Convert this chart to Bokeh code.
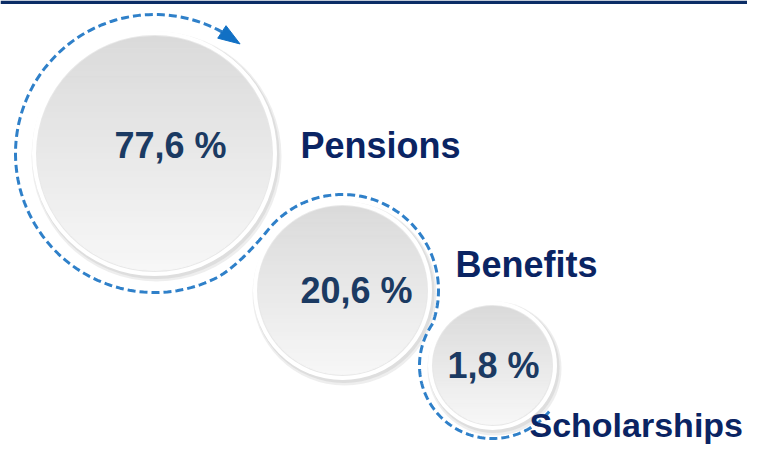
import numpy as np
from bokeh.plotting import figure
from bokeh.models import Range1d
from bokeh.core.properties import value
from bokeh.embed import file_html
from bokeh.resources import INLINE

# ---- data ----
categories = ["Pensions", "Benefits", "Scholarships"]
shares = [77.6, 20.6, 1.8]
pct_labels = [f"{v:.1f} %".replace(".", ",") for v in shares]

# ---- layout (pixel coordinates of the reference, y downwards) ----
disc_x = [154, 342, 492]
disc_y = [153, 290, 365]
disc_r = [117, 84, 59]
ring_r = [139, 96, 73]
pct_x = [170, 356, 493]
pct_y = [158, 303, 378]
lab_x = [300, 455, 529]
lab_y = [158, 277, 437]
lab_size = ["36px", "36px", "34px"]
TEXT_DY = -13  # renderer baseline correction

PCT_COLOR = "#1b3a62"
LAB_COLOR = "#0a2463"
DASH_COLOR = "#2f80c9"
ARROW_COLOR = "#1170c4"

W, H = 747, 446
p = figure(width=W, height=H, x_range=Range1d(0, W), y_range=Range1d(H, 0),
           output_backend="svg", toolbar_location=None, min_border=0,
           x_axis_location=None, y_axis_location=None, outline_line_color=None,
           background_fill_color="white", border_fill_color="white")
p.grid.visible = False

# top rule
p.quad(left=[0], right=[W], top=[0], bottom=[3.5], fill_color="#0b2d66", line_color=None)


def arc(cx, cy, r, a0, a1, n=120):
    a = np.radians(np.linspace(a0, a1, n))
    return cx + r * np.cos(a), cy - r * np.sin(a)


def bez(p0, p1, p2, p3, n=30):
    t = np.linspace(0, 1, n)[:, None]
    pts = ((1 - t) ** 3) * p0 + 3 * ((1 - t) ** 2) * t * p1 + 3 * (1 - t) * t ** 2 * p2 + t ** 3 * p3
    return pts[:, 0], pts[:, 1]


# discs: shadow, white rim, vertical gradient
for cx, cy, r in zip(disc_x, disc_y, disc_r):
    p.circle(x=[cx + 2], y=[cy + 3], radius=r + 8, fill_color="#bdbdbd", fill_alpha=0.25, line_color=None)
    p.circle(x=[cx + 1.5], y=[cy + 2], radius=r + 6.5, fill_color="#bfbfbf", fill_alpha=0.35, line_color=None)
    p.circle(x=[cx], y=[cy], radius=r + 5.5, fill_color="white", line_color=None)
    p.circle(x=[cx], y=[cy], radius=r + 1.5, fill_color="#d8d8d8", fill_alpha=0.6, line_color=None)
    nb = 40
    edges = np.linspace(cy - r, cy + r, nb + 1)
    xs, ys, cols = [], [], []
    for i in range(nb):
        y0, y1 = edges[i], edges[i + 1]
        yy = np.linspace(y0, y1, 6)
        w = np.sqrt(np.clip(r ** 2 - (yy - cy) ** 2, 0, None))
        xs.append(list(cx - w) + list((cx + w)[::-1]))
        ys.append(list(yy) + list(yy[::-1]))
        t = (i + 0.5) / nb
        c = int(round(218 + (247 - 218) * t))
        cols.append(f"#{c:02x}{c:02x}{c:02x}")
    p.patches(xs=xs, ys=ys, fill_color=cols, line_color=cols, line_width=1)

# dashed path
x1, y1 = arc(disc_x[0], disc_y[0], ring_r[0], 61, 295)
a = np.radians(295)
p0 = np.array([x1[-1], y1[-1]])
d0 = np.array([-np.sin(a), -np.cos(a)])
x2, y2 = arc(disc_x[1], disc_y[1], ring_r[1], 141, -20)
b = np.radians(141)
p3 = np.array([x2[0], y2[0]])
d3 = np.array([np.sin(b), np.cos(b)])
bx, by = bez(p0, p0 + 22 * d0, p3 - 20 * d3, p3)
x3, y3 = arc(disc_x[2], disc_y[2], ring_r[2], 145, 323)
px = np.concatenate([x1, bx[1:], x2[1:], x3])
py = np.concatenate([y1, by[1:], y2[1:], y3])
p.line(px, py, line_color=DASH_COLOR, line_width=3, line_dash="8 4")

# arrowhead
cx0, cy0, r0 = disc_x[0], disc_y[0], ring_r[0]
tip = np.array([cx0 + r0 * np.cos(np.radians(52)), cy0 - r0 * np.sin(np.radians(52))])
base = np.array([cx0 + r0 * np.cos(np.radians(61)), cy0 - r0 * np.sin(np.radians(61))])
dvec = (tip - base) / np.linalg.norm(tip - base)
perp = np.array([-dvec[1], dvec[0]])
pa = base + 7.5 * perp
pb = base - 7.5 * perp
p.patch(x=[tip[0], pa[0], pb[0]], y=[tip[1], pa[1], pb[1]], fill_color=ARROW_COLOR, line_color=ARROW_COLOR)

# texts
p.text(x=pct_x, y=[v + TEXT_DY for v in pct_y], text=pct_labels, text_font=value("Liberation Sans"),
       text_font_style="bold", text_font_size="36px", text_color=PCT_COLOR, text_align="center",
       text_baseline="alphabetic")
for lx, ly, lt, ls in zip(lab_x, lab_y, categories, lab_size):
    p.text(x=[lx], y=[ly + TEXT_DY], text=[lt], text_font=value("Liberation Sans"), text_font_style="bold",
           text_font_size=ls, text_color=LAB_COLOR, text_align="left", text_baseline="alphabetic")

open("out.html", "w").write(file_html(p, INLINE))
